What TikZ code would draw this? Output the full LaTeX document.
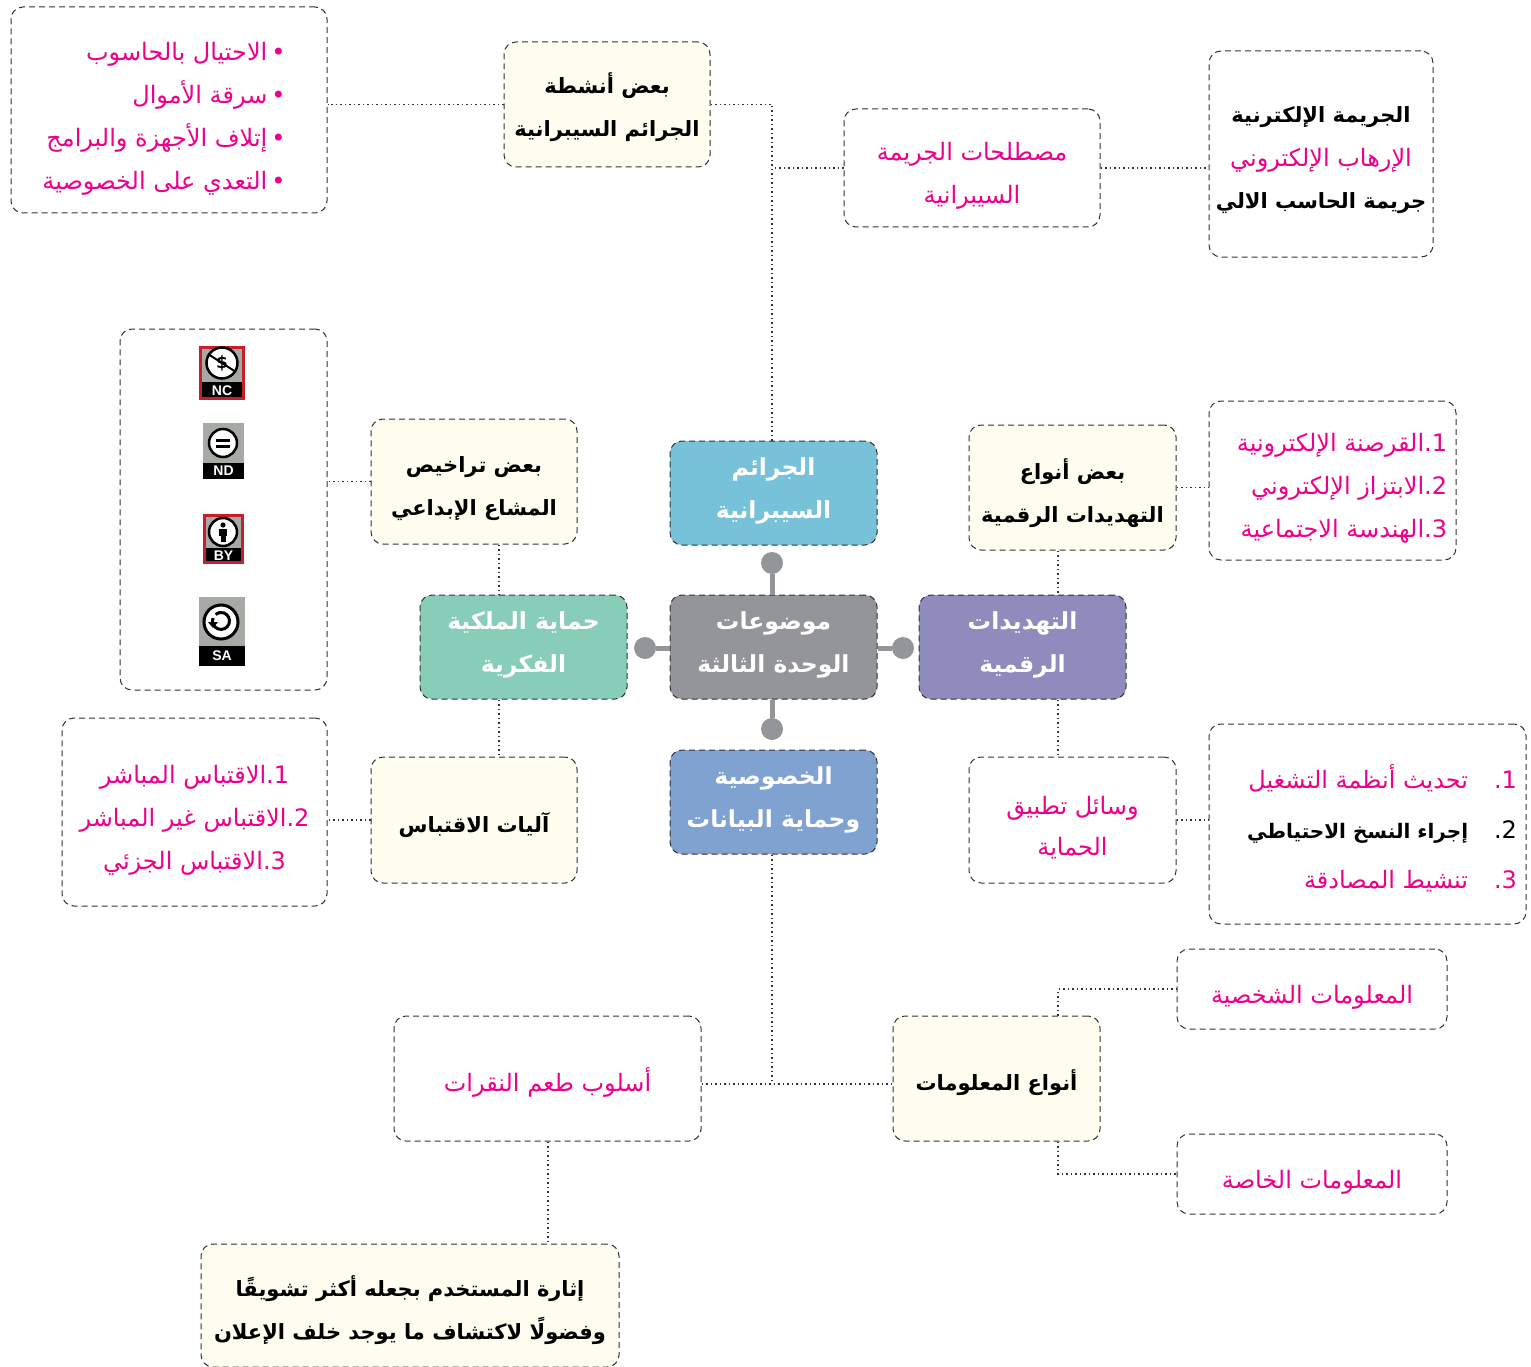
\documentclass[tikz,border=0pt]{standalone}
\usepackage{fontspec}
\usetikzlibrary{positioning}
\TeXXeTstate=1
\setmainfont{DejaVu Sans}
\newfontfamily\arabicfont[Script=Arabic]{DejaVu Sans}
\newfontfamily\badgefont{Liberation Sans}
\newlength{\dropamt}
\newcommand{\ar}[1]{\raisebox{-\dropamt}[0pt][0pt]{\arabicfont\beginR #1\endR}}
\newcommand{\pk}[1]{{\color{hotpink}\ar{#1}}}
\newcommand{\bk}[1]{{\fontsize{21}{43}\selectfont\bfseries\ar{#1}}}
\definecolor{hotpink}{RGB}{236,0,140}
\definecolor{cream}{RGB}{255,253,240}
\definecolor{hubgray}{RGB}{147,149,152}
\definecolor{crimeblue}{RGB}{119,193,217}
\definecolor{ipgreen}{RGB}{136,205,184}
\definecolor{threatpurple}{RGB}{143,139,189}
\definecolor{privblue}{RGB}{127,162,209}
\definecolor{dashgray}{RGB}{50,50,50}
\definecolor{badgegray}{RGB}{165,170,165}
\definecolor{badgered}{RGB}{200,30,40}
\tikzset{drop/.style={execute at begin node={\setlength{\dropamt}{#1pt}}}}
\tikzstyle{box} = [draw=dashgray, line width=1pt, dash pattern=on 6pt off 4pt, rounded corners=12pt, inner sep=0pt, align=center, font=\fontsize{24}{43}\selectfont]
\tikzstyle{headbox} = [box, fill=cream, font=\fontsize{21}{43}\selectfont\bfseries]
\tikzstyle{hubbox} = [box, text=white, drop=4, minimum width=207pt, minimum height=104pt, font=\fontsize{23.5}{43}\selectfont\bfseries]
\tikzstyle{link} = [draw=dashgray, line width=1.2pt, dash pattern=on 1.5pt off 3pt]
\tikzstyle{spoke} = [draw=hubgray, line width=5pt]
\tikzstyle{hubdot} = [circle, fill=hubgray, minimum size=22pt, inner sep=0pt]
\tikzstyle{badgelabel} = [text=white, inner sep=0pt, font=\fontsize{14}{14}\selectfont\badgefont\bfseries]

% #1 name, #2 x left, #3 top, #4 x right, #5 band top, #6 bottom, #7 label
\newcommand{\badge}[7]{
    \fill[badgegray] (#2,#3) rectangle (#4,#5);
    \fill[black] (#2,#5) rectangle (#4,#6);
    \node[badgelabel] (#1) at ({(#2+#4)/2},{(#5+#6)/2}) {#7};
}

\begin{document}
\begin{tikzpicture}[x=1pt, y=-1pt]
    \useasboundingbox (0,0) rectangle (1531,1367);

    \node[hubbox, fill=hubgray] (unit) at (773.5,647) {\ar{موضوعات}\\\ar{الوحدة الثالثة}};
    \node[hubbox, fill=crimeblue] (crimes) at (773.5,493) {\ar{الجرائم}\\\ar{السيبرانية}};
    \node[hubbox, fill=ipgreen] (property) at (523.5,647) {\ar{حماية الملكية}\\\ar{الفكرية}};
    \node[hubbox, fill=threatpurple] (threats) at (1022.5,647) {\ar{التهديدات}\\\ar{الرقمية}};
    \node[hubbox, fill=privblue] (privacy) at (773.5,802) {\ar{الخصوصية}\\\ar{وحماية البيانات}};

    \node[hubdot] (dottop) at (772,563) {};
    \node[hubdot] (dotbottom) at (772,729) {};
    \node[hubdot] (dotleft) at (645,648) {};
    \node[hubdot] (dotright) at (903,648) {};
    \draw[spoke] (unit.north -| dottop) -- (dottop);
    \draw[spoke] (unit.south -| dotbottom) -- (dotbottom);
    \draw[spoke] (unit.west |- dotleft) -- (dotleft);
    \draw[spoke] (unit.east |- dotright) -- (dotright);

    \node[headbox, drop=11, minimum width=206pt, minimum height=125pt] (acthead) at (607,104.5) {\ar{بعض أنشطة}\\\ar{الجرائم السيبرانية}};
    \node[box, drop=15, minimum width=316pt, minimum height=206pt, align=right] (actlist) at (169,110) {\pk{•\,الاحتيال بالحاسوب}\rule{10pt}{0pt}\\\pk{•\,سرقة الأموال}\rule{10pt}{0pt}\\\pk{•\,إتلاف الأجهزة والبرامج}\rule{10pt}{0pt}\\\pk{•\,التعدي على الخصوصية}\rule{10pt}{0pt}};
    \node[box, drop=14.5, minimum width=256pt, minimum height=118pt] (terms) at (972,168) {\pk{مصطلحات الجريمة}\\\pk{السيبرانية}};
    \node[box, drop=12, minimum width=224pt, minimum height=206pt] (termlist) at (1321,154) {\bk{الجريمة الإلكترنية}\\\pk{الإرهاب الإلكتروني}\\\bk{جريمة الحاسب الالي}};

    \node[headbox, drop=12, minimum width=206pt, minimum height=125pt] (cchead) at (474,481.5) {\ar{بعض تراخيص}\\\ar{المشاع الإبداعي}};
    \node[box, minimum width=207pt, minimum height=361pt] (cclist) at (223.5,509.5) {};

    \node[headbox, drop=13, minimum width=207pt, minimum height=125pt] (threathead) at (1072.5,487.5) {\ar{بعض أنواع}\\\ar{التهديدات الرقمية}};
    \node[box, drop=14, minimum width=247pt, minimum height=159pt, align=right] (threatlist) at (1332.5,480.5) {\hspace*{19pt}\pk{1.القرصنة الإلكترونية}\\\pk{2.الابتزاز الإلكتروني}\\\pk{3.الهندسة الاجتماعية}};

    \node[headbox, drop=12.5, minimum width=206pt, minimum height=126pt] (quotehead) at (474,820) {\ar{آليات الاقتباس}};
    \node[box, drop=14.5, minimum width=265pt, minimum height=188pt] (quotelist) at (194.5,812) {\pk{1.الاقتباس المباشر}\\\pk{2.الاقتباس غير المباشر}\\\pk{3.الاقتباس الجزئي}};

    \node[box, drop=15, minimum width=207pt, minimum height=126pt, font=\fontsize{24}{41}\selectfont] (protect) at (1072.5,820) {\pk{وسائل تطبيق}\\\pk{الحماية}};
    \node[box, drop=14.5, minimum width=317pt, minimum height=200pt, align=right, font=\fontsize{24}{50}\selectfont] (protectlist) at (1367.5,824) {\pk{1.\hspace{26pt}تحديث أنظمة التشغيل}\\\hspace*{29pt}\ar{2.\hspace{26pt}{\fontsize{20}{50}\selectfont\bfseries إجراء النسخ الاحتياطي}}\\\pk{3.\hspace{26pt}تنشيط المصادقة}};

    \node[box, drop=14.5, minimum width=270pt, minimum height=80pt] (personal) at (1312,989) {\pk{المعلومات الشخصية}};
    \node[headbox, drop=11.5, minimum width=207pt, minimum height=125pt] (infohead) at (996.5,1078.5) {\ar{أنواع المعلومات}};
    \node[box, drop=14.5, minimum width=270pt, minimum height=80pt] (private) at (1312,1174) {\pk{المعلومات الخاصة}};
    \node[box, drop=12.5, minimum width=307pt, minimum height=125pt] (clickbait) at (547.5,1078.5) {\pk{أسلوب طعم النقرات}};
    \node[headbox, drop=12.5, minimum width=418pt, minimum height=123pt] (baithead) at (410,1305.5) {\ar{إثارة المستخدم بجعله أكثر تشويقًا}\\\ar{وفضولًا لاكتشاف ما يوجد خلف الإعلان}};

    \coordinate (crimex) at (772,0);
    \coordinate (threatx) at (1058,0);
    \coordinate (leftx) at (499,0);
    \coordinate (baitx) at (548,0);
    \coordinate (joinpoint) at (772,1084);

    \draw[link] (acthead.west) -- (acthead.west -| actlist.east);
    \draw[link] (acthead.east) -| (crimes.north -| crimex);
    \draw[link] (terms.west) -- (terms.west -| crimex);
    \draw[link] (terms.east) -- (terms.east -| termlist.west);
    \draw[link] (threathead.east) -- (threathead.east -| threatlist.west);
    \draw[link] (threathead.south -| threatx) -- (threats.north -| threatx);
    \draw[link] (threats.south -| threatx) -- (protect.north -| threatx);
    \draw[link] (protect.east) -- (protect.east -| protectlist.west);
    \draw[link] (cchead.west) -- (cchead.west -| cclist.east);
    \draw[link] (cchead.south -| leftx) -- (property.north -| leftx);
    \draw[link] (property.south -| leftx) -- (quotehead.north -| leftx);
    \draw[link] (quotehead.west) -- (quotehead.west -| quotelist.east);
    \draw[link] (privacy.south -| crimex) -- (joinpoint);
    \draw[link] (clickbait.east |- joinpoint) -- (infohead.west |- joinpoint);
    \draw[link] (infohead.north -| threatx) |- (personal.west);
    \draw[link] (infohead.south -| threatx) |- (private.west);
    \draw[link] (clickbait.south -| baitx) -- (baithead.north -| baitx);

    % licence badges
    \badge{ncbadge}{199}{346}{245}{382}{400}{NC}
    \draw[badgered, line width=2.5pt] (200.5,347.5) rectangle (243.5,398.5);
    \fill[white, draw=black, line width=2.5pt] (222,363) circle (15.5);
    \node[inner sep=0pt, font=\fontsize{17}{17}\selectfont\bfseries] (ncsign) at (222,363.5) {\$};
    \draw[black, line width=2pt] (208,354) -- (236,372);

    \badge{ndbadge}{203}{423}{244}{463}{479}{ND}
    \fill[white, draw=black, line width=2.5pt] (223,443) circle (14);
    \fill[black] (216,438.5) rectangle (230,441.5);
    \fill[black] (216,444.5) rectangle (230,447.5);

    \badge{bybadge}{203}{514}{244}{548}{564}{BY}
    \draw[badgered, line width=2.5pt] (204.5,515.5) rectangle (242.5,562.5);
    \fill[white, draw=black, line width=2.5pt] (223,532) circle (14);
    \fill[black] (223,525) circle (2.6);
    \fill[black] (219,528.5) rectangle (227,535.5);
    \fill[black] (220.5,535) rectangle (225.5,541.5);

    \badge{sabadge}{199}{597}{245}{646}{666}{SA}
    \fill[white, draw=black, line width=3pt] (221,622) circle (17);
    \draw[black, line width=3pt] (213,618) arc[start angle=200, end angle=-130, radius=8.5];
    \fill[black] (208,622) -- (218,622) -- (213,628) -- cycle;
\end{tikzpicture}
\end{document}
